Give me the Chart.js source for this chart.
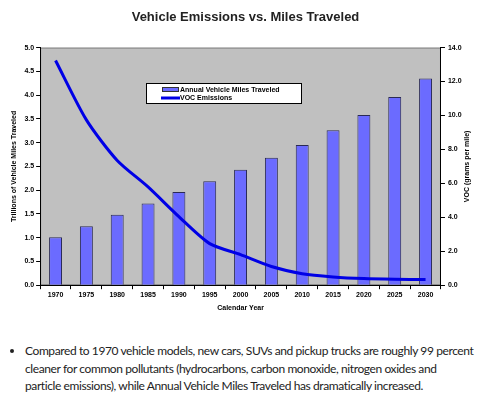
<!DOCTYPE html>
<html>
<head>
<meta charset="utf-8">
<script src="https://cdn.jsdelivr.net/npm/chart.js@4.4.0/dist/chart.umd.min.js"></script>
<style>
  body { margin: 0; background: #fff; width: 495px; height: 400px; overflow: hidden; }
  #wrap { position: absolute; left: 0; top: 0; width: 495px; height: 320px; }
  ul { position: absolute; left: 0; top: 342px; margin: 0; padding-left: 25px; width: 460px;
       font-family: Lato, sans-serif; font-size: 12px; letter-spacing: -0.4px; line-height: 17.5px; color: #222; }
</style>
</head>
<body>
<div id="wrap"><canvas id="myChart" width="495" height="320"></canvas></div>
<ul><li>Compared to 1970 vehicle models, new cars, SUVs and pickup trucks are roughly 99 percent cleaner for common pollutants (hydrocarbons, carbon monoxide, nitrogen oxides and<br>particle emissions), while Annual Vehicle Miles Traveled has dramatically increased.</li></ul>
<script>
const years = ['1970', '1975', '1980', '1985', '1990', '1995', '2000', '2005', '2010', '2015', '2020', '2025', '2030'];
const milesTraveled = [1.01, 1.24, 1.48, 1.72, 1.96, 2.19, 2.43, 2.68, 2.95, 3.26, 3.58, 3.96, 4.35];
const vocEmissions = [13.24, 9.74, 7.35, 5.79, 4.04, 2.45, 1.8, 1.1, 0.68, 0.49, 0.39, 0.35, 0.33];

const fontStack = 'Arial, "Liberation Sans", sans-serif';
const smallFont = { family: fontStack, size: 7, weight: 'bold' };

// gray plot background + box
const plotBg = {
  id: 'plotBg',
  beforeDraw(chart) {
    const a = chart.chartArea, c = chart.ctx;
    c.save();
    c.fillStyle = '#c0c0c0';
    c.fillRect(a.left, a.top, a.right - a.left, a.bottom - a.top);
    c.strokeStyle = '#808080';
    c.lineWidth = 1;
    c.strokeRect(a.left + 0.5, a.top + 0.5, a.right - a.left - 1, a.bottom - a.top - 1);
    c.restore();
  }
};

// legend box inside the plot, plus the right axis title (reads bottom to top)
const boxLegend = {
  id: 'boxLegend',
  afterDraw(chart) {
    const c = chart.ctx;
    const ds = chart.data.datasets;
    const bars = ds[1], line = ds[0];
    const x = 146, y = 83, w = 156, h = 21;
    c.save();
    c.fillStyle = '#fff';
    c.fillRect(x, y, w, h);
    c.strokeStyle = '#000';
    c.lineWidth = 1;
    c.strokeRect(x + 0.5, y + 0.5, w - 1, h - 1);
    c.font = 'bold 7px ' + fontStack;
    c.textBaseline = 'middle';
    c.fillStyle = bars.backgroundColor;
    c.fillRect(162, y + 4, 17, 5);
    c.strokeStyle = '#333';
    c.strokeRect(162.5, y + 4.5, 16, 4);
    c.fillStyle = '#000';
    c.fillText(bars.label, 180, y + 7);
    c.strokeStyle = line.borderColor;
    c.lineWidth = 3;
    c.beginPath();
    c.moveTo(161, y + 15);
    c.lineTo(180, y + 15);
    c.stroke();
    c.fillText(line.label, 180, y + 15.5);

    const a = chart.chartArea;
    c.translate(467, (a.top + a.bottom) / 2);
    c.rotate(-Math.PI / 2);
    c.textAlign = 'center';
    c.fillText('VOC (grams per mile)', 0, 0);
    c.restore();
  }
};

new Chart(document.getElementById('myChart').getContext('2d'), {
  type: 'bar',
  data: {
    labels: years,
    datasets: [{
      type: 'line',
      label: 'VOC Emissions',
      data: vocEmissions,
      yAxisID: 'y2',
      borderColor: '#0000e6',
      borderWidth: 3,
      pointRadius: 0,
      fill: false,
      tension: 0.25,
      order: 0
    }, {
      label: 'Annual Vehicle Miles Traveled',
      data: milesTraveled,
      yAxisID: 'y',
      backgroundColor: '#6b6bff',
      borderColor: '#2a2a55',
      borderWidth: 1,
      barPercentage: 0.42,
      categoryPercentage: 1,
      order: 1
    }]
  },
  options: {
    responsive: false,
    animation: false,
    layout: { padding: { left: 6, right: 10, top: 4, bottom: 4 } },
    plugins: {
      legend: { display: false },
      tooltip: { enabled: false },
      title: {
        display: true,
        text: 'Vehicle Emissions vs. Miles Traveled',
        color: '#222',
        font: { family: fontStack, size: 13, weight: 'bold' },
        padding: { top: 6, bottom: 22 }
      }
    },
    scales: {
      x: {
        grid: { display: true, drawOnChartArea: false, tickLength: 4, color: '#000', offset: true },
        border: { color: '#000' },
        ticks: { color: '#000', font: smallFont, padding: 2, maxRotation: 0 },
        title: { display: true, text: 'Calendar Year', color: '#000', font: smallFont, padding: { top: 2 } }
      },
      y: {
        position: 'left',
        min: 0, max: 5,
        grid: { drawOnChartArea: false, tickLength: 4, color: '#000' },
        border: { color: '#000' },
        ticks: { stepSize: 0.5, color: '#000', font: smallFont, padding: 2, callback: v => v.toFixed(1) },
        title: { display: true, text: 'Trillions of Vehicle Miles Traveled', color: '#000', font: smallFont, padding: 4 }
      },
      y2: {
        position: 'right',
        min: 0, max: 14,
        grid: { drawOnChartArea: false, tickLength: 4, color: '#000' },
        border: { color: '#000' },
        ticks: { stepSize: 2, color: '#000', font: smallFont, padding: 3, callback: v => v.toFixed(1) },
        title: { display: true, text: ' ', color: '#000', font: smallFont, padding: 6 }
      }
    }
  },
  plugins: [plotBg, boxLegend]
});
</script>
</body>
</html>
